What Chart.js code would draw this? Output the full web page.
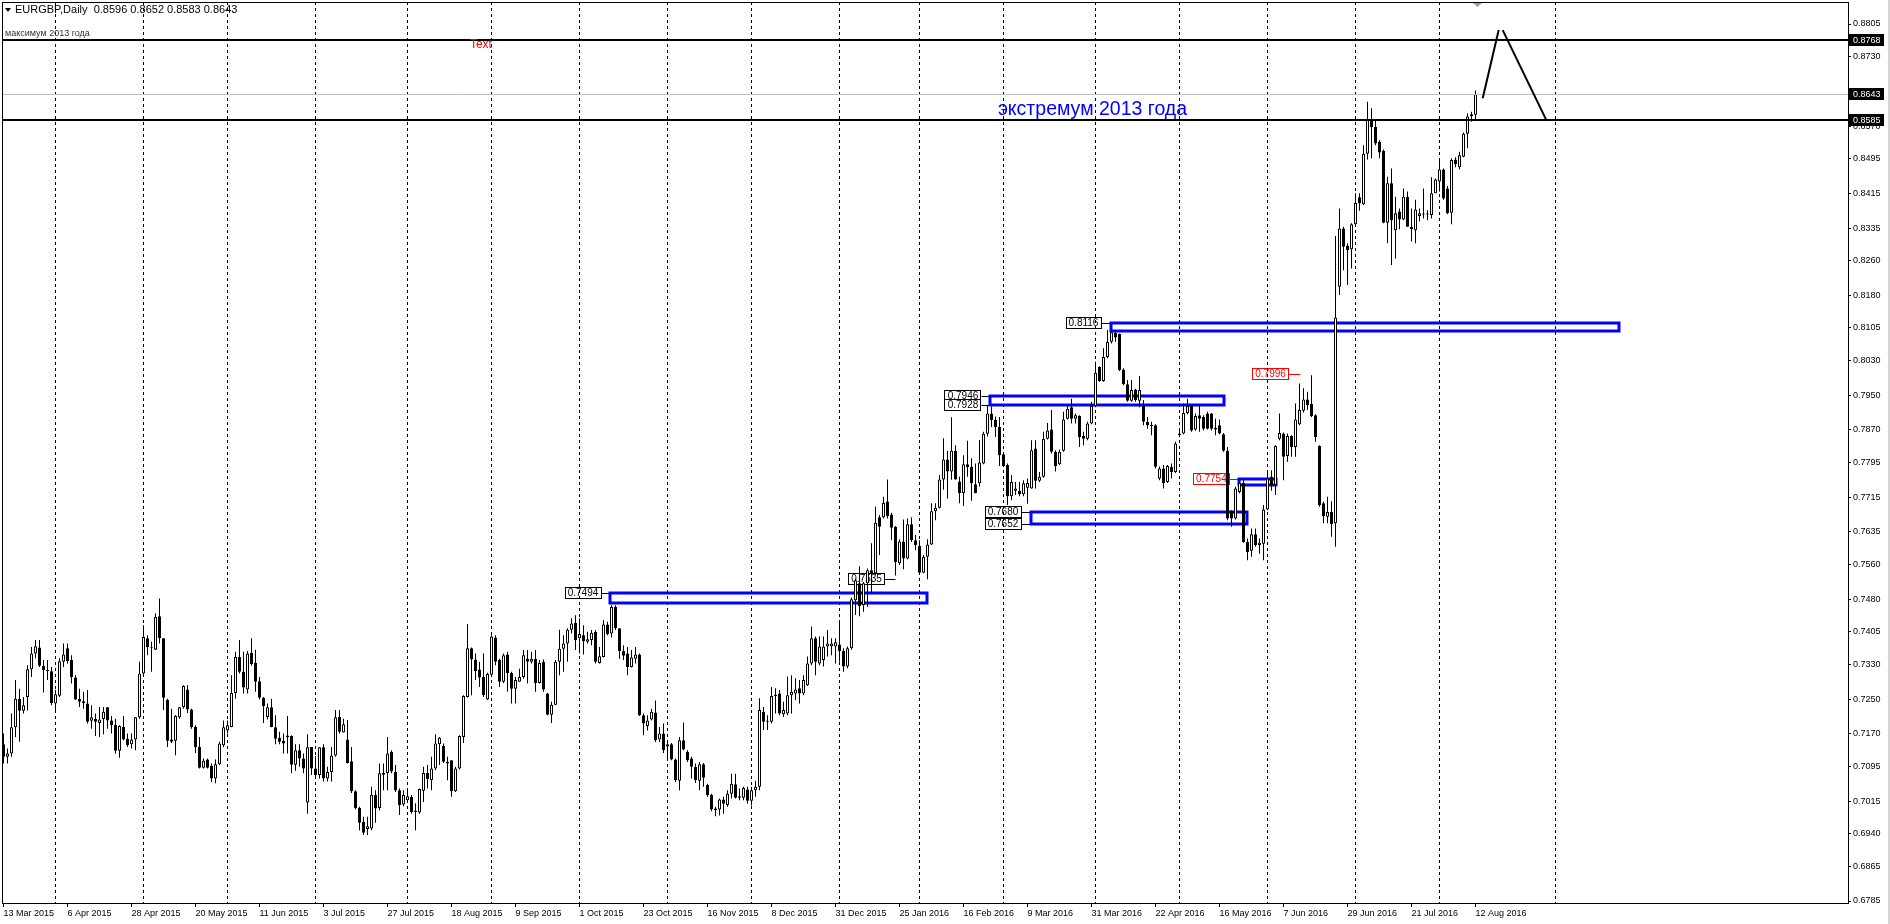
<!DOCTYPE html>
<html>
<head>
<meta charset="utf-8">
<title>EURGBP Daily</title>
<script src="https://cdn.jsdelivr.net/npm/chart.js@4.4.0/dist/chart.umd.min.js"></script>
<style>
  html, body { margin: 0; padding: 0; background: #fff; overflow: hidden; }
  canvas { display: block; }
</style>
</head>
<body>
<canvas id="chart" width="1890" height="924"></canvas>
<script>
const symbolName = 'EURGBP';
const timeframe = 'Daily';

// daily bars, 13 Mar 2015 .. 12 Aug 2016 (bar index = position on the x axis)
const opens = [
  0.7146,0.7117,0.7125,0.7185,0.7251,0.7223,0.7255,0.7319,0.7355,0.7369,
  0.7327,0.7317,0.7314,0.7240,0.7258,0.7336,0.7367,0.7340,0.7300,0.7250,
  0.7245,0.7240,0.7200,0.7205,0.7195,0.7204,0.7231,0.7201,0.7191,0.7131,
  0.7186,0.7159,0.7146,0.7157,0.7208,0.7309,0.7390,0.7369,0.7364,0.7441,
  0.7390,0.7248,0.7157,0.7154,0.7208,0.7231,0.7272,0.7226,0.7186,0.7140,
  0.7092,0.7111,0.7096,0.7067,0.7100,0.7144,0.7178,0.7186,0.7264,0.7347,
  0.7313,0.7272,0.7357,0.7334,0.7291,0.7253,0.7209,0.7231,0.7185,0.7161,
  0.7154,0.7162,0.7165,0.7099,0.7132,0.7113,0.7012,0.7140,0.7090,0.7075,
  0.7139,0.7067,0.7082,0.7120,0.7209,0.7173,0.7157,0.7107,0.7038,0.7000,
  0.6967,0.6951,0.6952,0.7029,0.6999,0.7080,0.7079,0.7129,0.7083,0.7040,
  0.7007,0.7017,0.7025,0.6993,0.6989,0.7039,0.7080,0.7063,0.7090,0.7146,
  0.7142,0.7102,0.7109,0.7038,0.7090,0.7163,0.7255,0.7367,0.7341,0.7318,
  0.7301,0.7249,0.7306,0.7392,0.7340,0.7290,0.7353,0.7310,0.7274,0.7290,
  0.7301,0.7343,0.7336,0.7343,0.7287,0.7336,0.7263,0.7214,0.7237,0.7336,
  0.7366,0.7378,0.7410,0.7426,0.7390,0.7397,0.7382,0.7386,0.7405,0.7333,
  0.7347,0.7422,0.7401,0.7462,0.7413,0.7361,0.7355,0.7324,0.7343,0.7353,
  0.7213,0.7188,0.7203,0.7219,0.7157,0.7171,0.7141,0.7146,0.7111,0.7062,
  0.7155,0.7128,0.7113,0.7094,0.7062,0.7100,0.7052,0.7030,0.6994,0.6996,
  0.7019,0.7006,0.7032,0.7054,0.7023,0.7023,0.7042,0.7016,0.7040,0.7048,
  0.7221,0.7200,0.7198,0.7257,0.7263,0.7215,0.7217,0.7259,0.7263,0.7275,
  0.7263,0.7282,0.7332,0.7390,0.7332,0.7340,0.7371,0.7372,0.7371,0.7376,
  0.7361,0.7325,0.7367,0.7478,0.7517,0.7467,0.7517,0.7547,0.7540,0.7669,
  0.7669,0.7705,0.7675,0.7647,0.7563,0.7613,0.7574,0.7653,0.7616,0.7603,
  0.7541,0.7578,0.7606,0.7683,0.7691,0.7756,0.7802,0.7774,0.7822,0.7751,
  0.7725,0.7791,0.7785,0.7745,0.7747,0.7793,0.7861,0.7908,0.7893,0.7877,
  0.7814,0.7789,0.7717,0.7730,0.7730,0.7722,0.7737,0.7735,0.7827,0.7753,
  0.7762,0.7850,0.7871,0.7820,0.7791,0.7822,0.7896,0.7922,0.7896,0.7902,
  0.7856,0.7850,0.7885,0.7925,0.8015,0.7983,0.8038,0.8073,0.8094,0.8091,
  0.8009,0.7975,0.7937,0.7963,0.7937,0.7925,0.7889,0.7879,0.7881,0.7758,
  0.7781,0.7750,0.7785,0.7773,0.7858,0.7862,0.7909,0.7925,0.7871,0.7904,
  0.7900,0.7908,0.7908,0.7871,0.7881,0.7860,0.7822,0.7684,0.7666,0.7727,
  0.7748,0.7612,0.7592,0.7630,0.7605,0.7608,0.7687,0.7762,0.7743,0.7850,
  0.7862,0.7810,0.7856,0.7831,0.7883,0.7914,0.7940,0.7930,0.7904,0.7833,
  0.7701,0.7670,0.7681,0.7655,0.8200,0.8334,0.8294,0.8286,0.8344,0.8406,
  0.8390,0.8506,0.8585,0.8568,0.8534,0.8513,0.8347,0.8438,0.8330,0.8373,
  0.8355,0.8407,0.8338,0.8330,0.8363,0.8366,0.8367,0.8365,0.8415,0.8442,
  0.8470,0.8426,0.8370,0.8493,0.8475,0.8499,0.8552,0.8593,0.8596
];
const highs = [
  0.7171,0.7136,0.7217,0.7294,0.7274,0.7255,0.7328,0.7370,0.7386,0.7386,
  0.7340,0.7340,0.7324,0.7271,0.7344,0.7378,0.7378,0.7351,0.7305,0.7274,
  0.7267,0.7271,0.7236,0.7217,0.7232,0.7232,0.7232,0.7211,0.7205,0.7190,
  0.7211,0.7171,0.7171,0.7209,0.7336,0.7420,0.7397,0.7382,0.7447,0.7482,
  0.7390,0.7251,0.7228,0.7213,0.7232,0.7282,0.7282,0.7228,0.7190,0.7163,
  0.7113,0.7113,0.7102,0.7111,0.7152,0.7201,0.7201,0.7305,0.7359,0.7386,
  0.7359,0.7361,0.7390,0.7364,0.7301,0.7255,0.7240,0.7251,0.7213,0.7175,
  0.7171,0.7211,0.7167,0.7146,0.7146,0.7125,0.7169,0.7140,0.7119,0.7140,
  0.7146,0.7094,0.7140,0.7225,0.7225,0.7205,0.7202,0.7140,0.7040,0.7002,
  0.6979,0.6979,0.7048,0.7040,0.7102,0.7102,0.7163,0.7132,0.7098,0.7044,
  0.7040,0.7040,0.7029,0.7010,0.7044,0.7094,0.7098,0.7117,0.7169,0.7163,
  0.7148,0.7117,0.7109,0.7094,0.7167,0.7259,0.7423,0.7369,0.7355,0.7336,
  0.7355,0.7311,0.7397,0.7397,0.7343,0.7355,0.7359,0.7313,0.7301,0.7320,
  0.7363,0.7363,0.7359,0.7363,0.7340,0.7341,0.7264,0.7244,0.7340,0.7410,
  0.7397,0.7413,0.7436,0.7443,0.7436,0.7420,0.7405,0.7409,0.7409,0.7370,
  0.7432,0.7428,0.7466,0.7466,0.7413,0.7374,0.7370,0.7363,0.7370,0.7355,
  0.7217,0.7213,0.7228,0.7247,0.7186,0.7194,0.7151,0.7149,0.7113,0.7163,
  0.7196,0.7132,0.7117,0.7102,0.7105,0.7103,0.7055,0.7032,0.7002,0.7021,
  0.7025,0.7040,0.7078,0.7078,0.7044,0.7048,0.7048,0.7048,0.7062,0.7252,
  0.7232,0.7213,0.7278,0.7275,0.7271,0.7244,0.7302,0.7305,0.7298,0.7294,
  0.7305,0.7348,0.7417,0.7394,0.7394,0.7394,0.7409,0.7390,0.7390,0.7432,
  0.7367,0.7371,0.7484,0.7528,0.7556,0.7520,0.7551,0.7609,0.7693,0.7674,
  0.7716,0.7756,0.7679,0.7649,0.7618,0.7664,0.7666,0.7669,0.7628,0.7616,
  0.7582,0.7618,0.7701,0.7701,0.7766,0.7851,0.7822,0.7899,0.7835,0.7762,
  0.7812,0.7845,0.7805,0.7793,0.7847,0.7866,0.7928,0.7924,0.7901,0.7900,
  0.7816,0.7793,0.7766,0.7750,0.7750,0.7754,0.7758,0.7846,0.7846,0.7773,
  0.7866,0.7886,0.7916,0.7823,0.7825,0.7912,0.7927,0.7942,0.7908,0.7904,
  0.7866,0.7889,0.7935,0.8027,0.8017,0.8058,0.8100,0.8115,0.8101,0.8092,
  0.8012,0.7985,0.7985,0.7965,0.7994,0.7939,0.7900,0.7889,0.7883,0.7786,
  0.7789,0.7789,0.7793,0.7843,0.7873,0.7931,0.7942,0.7927,0.7908,0.7927,
  0.7904,0.7912,0.7909,0.7896,0.7894,0.7863,0.7831,0.7685,0.7739,0.7754,
  0.7754,0.7620,0.7643,0.7643,0.7620,0.7697,0.7777,0.7777,0.7835,0.7908,
  0.7864,0.7862,0.7858,0.7931,0.7977,0.7966,0.7958,0.7996,0.7906,0.7835,
  0.7705,0.7716,0.7706,0.8317,0.8380,0.8338,0.8300,0.8346,0.8415,0.8415,
  0.8526,0.8626,0.8611,0.8584,0.8538,0.8516,0.8453,0.8472,0.8407,0.8380,
  0.8426,0.8419,0.8380,0.8400,0.8380,0.8426,0.8376,0.8452,0.8449,0.8493,
  0.8472,0.8432,0.8496,0.8498,0.8511,0.8555,0.8599,0.8603,0.8652
];
const lows = [
  0.7102,0.7102,0.7117,0.7163,0.7152,0.7217,0.7224,0.7301,0.7344,0.7324,
  0.7265,0.7294,0.7236,0.7221,0.7255,0.7324,0.7332,0.7286,0.7248,0.7232,
  0.7228,0.7194,0.7182,0.7165,0.7163,0.7169,0.7182,0.7171,0.7125,0.7115,
  0.7155,0.7140,0.7136,0.7132,0.7205,0.7305,0.7351,0.7313,0.7363,0.7378,
  0.7225,0.7140,0.7149,0.7121,0.7205,0.7228,0.7218,0.7182,0.7126,0.7090,
  0.7090,0.7090,0.7059,0.7056,0.7098,0.7140,0.7171,0.7185,0.7251,0.7309,
  0.7263,0.7263,0.7327,0.7267,0.7249,0.7195,0.7203,0.7185,0.7146,0.7146,
  0.7125,0.7125,0.7080,0.7085,0.7094,0.7079,0.6986,0.7075,0.7067,0.7067,
  0.7060,0.7060,0.7060,0.7117,0.7171,0.7173,0.7102,0.7034,0.6996,0.6948,
  0.6937,0.6937,0.6948,0.6965,0.6994,0.7040,0.7040,0.7079,0.7036,0.6983,
  0.7003,0.7013,0.6986,0.6948,0.6986,0.7013,0.7044,0.7040,0.7086,0.7098,
  0.7103,0.7063,0.7025,0.7036,0.7088,0.7149,0.7254,0.7259,0.7294,0.7278,
  0.7255,0.7248,0.7303,0.7328,0.7278,0.7287,0.7267,0.7240,0.7240,0.7290,
  0.7297,0.7286,0.7332,0.7267,0.7286,0.7267,0.7213,0.7195,0.7236,0.7305,
  0.7313,0.7336,0.7401,0.7363,0.7355,0.7353,0.7378,0.7374,0.7332,0.7332,
  0.7346,0.7397,0.7392,0.7409,0.7343,0.7340,0.7305,0.7323,0.7332,0.7211,
  0.7167,0.7178,0.7201,0.7151,0.7151,0.7126,0.7109,0.7109,0.7059,0.7040,
  0.7132,0.7105,0.7067,0.7057,0.7040,0.7048,0.7025,0.6992,0.6980,0.6982,
  0.6986,0.7002,0.7021,0.7021,0.7017,0.7017,0.7009,0.7005,0.7025,0.7040,
  0.7179,0.7179,0.7194,0.7217,0.7213,0.7209,0.7213,0.7217,0.7248,0.7240,
  0.7259,0.7280,0.7328,0.7305,0.7328,0.7325,0.7348,0.7351,0.7332,0.7336,
  0.7313,0.7321,0.7364,0.7444,0.7441,0.7451,0.7463,0.7493,0.7536,0.7582,
  0.7666,0.7666,0.7616,0.7535,0.7559,0.7549,0.7572,0.7612,0.7593,0.7536,
  0.7540,0.7526,0.7605,0.7662,0.7689,0.7732,0.7712,0.7755,0.7755,0.7701,
  0.7695,0.7762,0.7707,0.7724,0.7740,0.7791,0.7855,0.7877,0.7854,0.7787,
  0.7785,0.7697,0.7708,0.7720,0.7717,0.7717,0.7700,0.7735,0.7735,0.7750,
  0.7760,0.7848,0.7816,0.7774,0.7789,0.7820,0.7894,0.7885,0.7885,0.7831,
  0.7835,0.7846,0.7883,0.7922,0.7981,0.7981,0.8035,0.8069,0.8073,0.8006,
  0.7973,0.7935,0.7935,0.7935,0.7922,0.7881,0.7873,0.7858,0.7781,0.7754,
  0.7735,0.7748,0.7758,0.7771,0.7854,0.7860,0.7906,0.7866,0.7868,0.7866,
  0.7869,0.7871,0.7869,0.7858,0.7860,0.7820,0.7662,0.7647,0.7664,0.7724,
  0.7610,0.7570,0.7578,0.7601,0.7585,0.7570,0.7685,0.7730,0.7720,0.7846,
  0.7754,0.7797,0.7808,0.7808,0.7881,0.7910,0.7916,0.7900,0.7843,0.7693,
  0.7655,0.7655,0.7624,0.7601,0.8181,0.8238,0.8204,0.8242,0.8342,0.8375,
  0.8388,0.8493,0.8496,0.8526,0.8496,0.8346,0.8300,0.8250,0.8265,0.8332,
  0.8353,0.8338,0.8304,0.8300,0.8350,0.8357,0.8353,0.8357,0.8415,0.8419,
  0.8400,0.8367,0.8344,0.8475,0.8470,0.8498,0.8519,0.8580,0.8583
];
const closes = [
  0.7117,0.7125,0.7185,0.7251,0.7223,0.7236,0.7319,0.7355,0.7372,0.7327,
  0.7317,0.7314,0.7241,0.7261,0.7337,0.7353,0.7338,0.7301,0.7249,0.7244,
  0.7241,0.7198,0.7208,0.7198,0.7203,0.7221,0.7201,0.7190,0.7131,0.7188,
  0.7157,0.7144,0.7157,0.7208,0.7309,0.7393,0.7370,0.7367,0.7440,0.7390,
  0.7253,0.7154,0.7152,0.7211,0.7231,0.7280,0.7226,0.7185,0.7139,0.7092,
  0.7108,0.7092,0.7067,0.7100,0.7148,0.7185,0.7190,0.7264,0.7347,0.7313,
  0.7277,0.7355,0.7331,0.7290,0.7253,0.7234,0.7231,0.7186,0.7159,0.7152,
  0.7148,0.7166,0.7099,0.7132,0.7113,0.7090,0.7139,0.7090,0.7075,0.7139,
  0.7067,0.7082,0.7120,0.7208,0.7175,0.7192,0.7103,0.7038,0.6999,0.6965,
  0.6942,0.6957,0.7030,0.6998,0.7079,0.7076,0.7125,0.7083,0.7040,0.7006,
  0.7029,0.7026,0.6990,0.6990,0.7043,0.7080,0.7066,0.7090,0.7148,0.7161,
  0.7106,0.7106,0.7038,0.7090,0.7165,0.7257,0.7367,0.7341,0.7315,0.7300,
  0.7259,0.7308,0.7394,0.7336,0.7290,0.7351,0.7310,0.7274,0.7294,0.7301,
  0.7351,0.7336,0.7343,0.7287,0.7333,0.7272,0.7214,0.7237,0.7336,0.7366,
  0.7378,0.7410,0.7424,0.7386,0.7400,0.7384,0.7388,0.7403,0.7336,0.7349,
  0.7422,0.7400,0.7462,0.7413,0.7361,0.7350,0.7324,0.7346,0.7353,0.7213,
  0.7194,0.7201,0.7221,0.7155,0.7171,0.7132,0.7146,0.7111,0.7063,0.7155,
  0.7134,0.7109,0.7094,0.7063,0.7100,0.7069,0.7029,0.6996,0.6998,0.7019,
  0.7009,0.7032,0.7055,0.7023,0.7026,0.7045,0.7016,0.7040,0.7048,0.7225,
  0.7198,0.7198,0.7257,0.7260,0.7217,0.7225,0.7259,0.7267,0.7272,0.7263,
  0.7294,0.7332,0.7390,0.7336,0.7371,0.7371,0.7378,0.7378,0.7381,0.7361,
  0.7325,0.7367,0.7480,0.7524,0.7464,0.7517,0.7547,0.7540,0.7656,0.7647,
  0.7702,0.7672,0.7645,0.7566,0.7613,0.7574,0.7653,0.7616,0.7605,0.7541,
  0.7578,0.7606,0.7683,0.7691,0.7756,0.7802,0.7774,0.7822,0.7756,0.7725,
  0.7791,0.7784,0.7747,0.7725,0.7795,0.7861,0.7908,0.7893,0.7877,0.7812,
  0.7787,0.7717,0.7750,0.7735,0.7722,0.7747,0.7748,0.7823,0.7753,0.7762,
  0.7850,0.7869,0.7820,0.7787,0.7820,0.7894,0.7919,0.7896,0.7904,0.7854,
  0.7850,0.7885,0.7925,0.8002,0.7983,0.8038,0.8073,0.8095,0.8083,0.8008,
  0.7975,0.7937,0.7962,0.7939,0.7962,0.7889,0.7881,0.7881,0.7785,0.7781,
  0.7748,0.7787,0.7773,0.7839,0.7862,0.7909,0.7925,0.7869,0.7902,0.7896,
  0.7873,0.7873,0.7873,0.7875,0.7862,0.7822,0.7666,0.7666,0.7735,0.7748,
  0.7612,0.7589,0.7630,0.7605,0.7610,0.7687,0.7758,0.7743,0.7833,0.7863,
  0.7808,0.7856,0.7831,0.7894,0.7916,0.7940,0.7927,0.7902,0.7854,0.7697,
  0.7671,0.7681,0.7653,0.8129,0.8334,0.8292,0.8284,0.8344,0.8393,0.8392,
  0.8506,0.8585,0.8568,0.8530,0.8509,0.8347,0.8438,0.8353,0.8369,0.8355,
  0.8407,0.8338,0.8332,0.8378,0.8369,0.8367,0.8366,0.8415,0.8447,0.8470,
  0.8403,0.8369,0.8492,0.8482,0.8503,0.8552,0.8592,0.8597,0.8643
];

// time axis: a label every 16 bars
const tickBars = [0,16,32,48,64,80,96,112,128,144,160,176,192,208,224,240,256,272,288,304,320,336,352,368];
const tickLabels = ['13 Mar 2015','6 Apr 2015','28 Apr 2015','20 May 2015','11 Jun 2015','3 Jul 2015',
  '27 Jul 2015','18 Aug 2015','9 Sep 2015','1 Oct 2015','23 Oct 2015','16 Nov 2015','8 Dec 2015',
  '31 Dec 2015','25 Jan 2016','16 Feb 2016','9 Mar 2016','31 Mar 2016','22 Apr 2016','16 May 2016',
  '7 Jun 2016','29 Jun 2016','21 Jul 2016','12 Aug 2016'];
// first bar of every month -> dashed grid
const monthStartBars = [13,35,56,78,101,122,144,166,187,209,229,250,273,294,316,338,359,388];
// price axis
const priceTicks = [0.8805,0.8730,0.8650,0.8570,0.8495,0.8415,0.8335,0.8260,0.8180,0.8105,0.8030,0.7950,
  0.7870,0.7795,0.7715,0.7635,0.7560,0.7480,0.7405,0.7330,0.7250,0.7170,0.7095,0.7015,0.6940,0.6865,0.6785];

// objects drawn on the chart
const high2013 = 0.8768;
const extreme2013 = 0.8585;
// [fromBar, toBar, topPrice, bottomPrice]
const zones = [
  [151.7, 231.0, 0.7494, 0.7470],
  [246.6, 305.1, 0.7948, 0.7928],
  [276.9, 403.9, 0.8116, 0.8098],
  [256.8, 310.9, 0.7681, 0.7653],
  [308.9, 318.1, 0.7756, 0.7743]
];
// [text, bar of right edge, price, bar the leader goes to, red?]
const priceTags = [
  ['0.7535', 220.4, 0.7526, 223.0, false],
  ['0.7494', 149.5, 0.7494, 151.7, false],
  ['0.7946', 244.5, 0.7948, 246.6, false],
  ['0.7928', 244.5, 0.7927, 246.6, false],
  ['0.8116', 274.5, 0.8116, 276.9, false],
  ['0.7680', 254.5, 0.7682, 256.8, false],
  ['0.7652', 254.5, 0.7653, 256.8, false],
  ['0.7754', 306.6, 0.7756, 308.9, true],
  ['0.7996', 321.4, 0.7998, 324.2, true]
];
// hand drawn forecast: two segments
const forecast = [
  [[369.8, 0.8634], [373.8, 0.8791]],
  [[374.8, 0.8791], [385.8, 0.8582]]
];

const last = closes.length - 1;
const bodies = opens.map((o, i) => ({ x: i, y: [o, closes[i]] }));
const wicks = highs.map((h, i) => ({ x: i, y: [lows[i], h] }));
const bodyColors = opens.map((o, i) => closes[i] >= o ? '#ffffff' : '#000000');

function priceTag(ctx, xr, yc, xTo, text, color) {
  ctx.font = '10px "Liberation Sans", Arial, sans-serif';
  const w = Math.ceil(ctx.measureText(text).width) + 6;
  const top = Math.round(yc - 6);
  ctx.fillStyle = '#fff';
  ctx.fillRect(xr - w, top, w, 12);
  ctx.strokeStyle = color;
  ctx.lineWidth = 1;
  ctx.strokeRect(Math.round(xr - w) + 0.5, top + 0.5, w - 1, 11);
  ctx.beginPath();
  ctx.moveTo(xr, Math.round(yc) + 0.5);
  ctx.lineTo(xTo, Math.round(yc) + 0.5);
  ctx.stroke();
  ctx.fillStyle = color;
  ctx.textAlign = 'center';
  ctx.textBaseline = 'middle';
  ctx.fillText(text, xr - w / 2, top + 6.5);
}

const mt4Objects = {
  id: 'mt4Objects',
  beforeDraw(chart) {
    const ctx = chart.ctx;
    ctx.save();
    ctx.fillStyle = '#fff';
    ctx.fillRect(0, 0, chart.width, chart.height);
    ctx.restore();
  },
  beforeDatasetsDraw(chart) {
    const { ctx, chartArea: a, scales: { x, y } } = chart;
    ctx.save();
    ctx.beginPath();
    ctx.rect(a.left, a.top, a.right - a.left, a.bottom - a.top);
    ctx.clip();

    priceTags.forEach(t => {
      priceTag(ctx, x.getPixelForValue(t[1]), y.getPixelForValue(t[2]), x.getPixelForValue(t[3]), t[0], t[4] ? '#ff0000' : '#000');
    });

    ctx.strokeStyle = '#0000ff';
    ctx.lineWidth = 3;
    zones.forEach(z => {
      const x1 = x.getPixelForValue(z[0]), x2 = x.getPixelForValue(z[1]);
      const y1 = y.getPixelForValue(z[2]), y2 = y.getPixelForValue(z[3]);
      ctx.strokeRect(Math.round(x1), Math.round(y1), Math.round(x2 - x1), Math.round(y2 - y1));
    });

    // month grid
    ctx.strokeStyle = '#000';
    ctx.lineWidth = 1;
    ctx.setLineDash([3, 3]);
    monthStartBars.forEach(i => {
      const px = Math.floor(x.getPixelForValue(i)) + 0.5;
      ctx.beginPath();
      ctx.moveTo(px, a.top);
      ctx.lineTo(px, a.bottom);
      ctx.stroke();
    });
    ctx.restore();
  },
  afterDatasetsDraw(chart) {
    const { ctx, chartArea: a, scales: { x, y } } = chart;
    ctx.save();
    ctx.beginPath();
    ctx.rect(a.left, a.top, a.right - a.left, a.bottom - a.top);
    ctx.clip();

    // bid line
    let py = Math.round(y.getPixelForValue(closes[last])) + 0.5;
    ctx.strokeStyle = '#c0c0c0';
    ctx.lineWidth = 1;
    ctx.beginPath(); ctx.moveTo(a.left, py); ctx.lineTo(a.right, py); ctx.stroke();

    // horizontal levels
    ctx.strokeStyle = '#000';
    ctx.lineWidth = 2;
    [high2013, extreme2013].forEach(p => {
      const ly = Math.round(y.getPixelForValue(p));
      ctx.beginPath(); ctx.moveTo(a.left, ly); ctx.lineTo(a.right, ly); ctx.stroke();
    });

    // forecast lines
    forecast.forEach(seg => {
      ctx.beginPath();
      ctx.moveTo(x.getPixelForValue(seg[0][0]), y.getPixelForValue(seg[0][1]));
      ctx.lineTo(x.getPixelForValue(seg[1][0]), y.getPixelForValue(seg[1][1]));
      ctx.stroke();
    });

    // texts
    ctx.fillStyle = '#333';
    ctx.font = '9px "Liberation Sans", Arial, sans-serif';
    ctx.textAlign = 'left';
    ctx.textBaseline = 'alphabetic';
    ctx.fillText('максимум 2013 года', a.left + 3, y.getPixelForValue(high2013) - 4);

    ctx.fillStyle = '#0000ff';
    ctx.font = '19.5px "Liberation Sans", Arial, sans-serif';
    ctx.fillText('экстремум 2013 года', x.getPixelForValue(248.6), y.getPixelForValue(0.8595));

    ctx.fillStyle = '#ff0000';
    ctx.font = '12px "Liberation Sans", Arial, sans-serif';
    ctx.textBaseline = 'middle';
    ctx.fillText('Text', x.getPixelForValue(116.6), y.getPixelForValue(0.8757));
    ctx.restore();
  },
  afterDraw(chart) {
    const { ctx, chartArea: a, scales: { y } } = chart;
    ctx.save();
    // frame
    ctx.strokeStyle = '#000';
    ctx.lineWidth = 1;
    ctx.strokeRect(a.left + 0.5, a.top + 0.5, a.right - a.left, a.bottom - a.top);

    // header
    ctx.fillStyle = '#000';
    ctx.beginPath(); ctx.moveTo(5, 8); ctx.lineTo(11, 8); ctx.lineTo(8, 12); ctx.closePath(); ctx.fill();
    ctx.font = '11px "Liberation Sans", Arial, sans-serif';
    ctx.textAlign = 'left';
    ctx.textBaseline = 'middle';
    const ohlc = [opens[last], highs[last], lows[last], closes[last]].map(v => v.toFixed(4)).join(' ');
    ctx.fillText(symbolName + ',' + timeframe + '  ' + ohlc, 15, 10);

    // chart shift marker
    ctx.fillStyle = '#a0a0a0';
    ctx.beginPath(); ctx.moveTo(1473, 3); ctx.lineTo(1482, 3); ctx.lineTo(1477.5, 7); ctx.closePath(); ctx.fill();

    // price boxes on the axis
    ctx.font = '9px "Liberation Sans", Arial, sans-serif';
    [high2013, closes[last], extreme2013].forEach(p => {
      const py = Math.round(y.getPixelForValue(p));
      ctx.fillStyle = '#000';
      ctx.fillRect(a.right + 1, py - 6, 35, 12);
      ctx.fillStyle = '#fff';
      ctx.fillText(p.toFixed(4), a.right + 5, py + 0.5);
    });

    ctx.fillStyle = '#d4d4d4';
    ctx.fillRect(1888, 0, 2, chart.height);
    ctx.restore();
  }
};

Chart.defaults.font.family = '"Liberation Sans", Arial, sans-serif';
Chart.defaults.font.size = 9;
Chart.defaults.color = '#000';

const ctx = document.getElementById('chart').getContext('2d');
const chart = new Chart(ctx, {
  type: 'bar',
  data: {
    datasets: [
      {
        label: 'body',
        data: bodies,
        backgroundColor: bodyColors,
        borderColor: '#000',
        borderWidth: 1,
        borderSkipped: false,
        barThickness: 3,
        minBarLength: 1,
        inflateAmount: 0,
        grouped: false,
        order: 0
      },
      {
        label: 'wick',
        data: wicks,
        backgroundColor: '#000',
        borderWidth: 0,
        barThickness: 1,
        inflateAmount: 0,
        grouped: false,
        order: 1
      }
    ]
  },
  options: {
    responsive: false,
    animation: false,
    devicePixelRatio: 1,
    layout: { padding: { left: 2, top: 2, right: 0, bottom: 0 } },
    plugins: { legend: { display: false }, tooltip: { enabled: false } },
    scales: {
      x: {
        type: 'linear',
        offset: false,
        min: -0.375,
        max: 461.125,
        grid: { offset: false, drawOnChartArea: false, tickLength: 4, color: '#000' },
        border: { display: false },
        ticks: {
          autoSkip: false,
          maxRotation: 0,
          align: 'start',
          padding: 1,
          color: '#000',
          callback: v => tickLabels[tickBars.indexOf(v)]
        },
        afterBuildTicks: s => { s.ticks = tickBars.map(v => ({ value: v })); },
        afterFit: s => { s.height = 21; s.paddingLeft = 0; s.paddingRight = 0; }
      },
      y: {
        position: 'right',
        min: 0.67804,
        max: 0.88557,
        grid: { drawOnChartArea: false, tickLength: 3, color: '#000' },
        border: { display: false },
        ticks: {
          padding: 2,
          color: '#000',
          callback: v => v.toFixed(4)
        },
        afterBuildTicks: s => { s.ticks = priceTicks.map(v => ({ value: v })); },
        afterFit: s => { s.width = 42; s.paddingTop = 0; s.paddingBottom = 0; }
      }
    }
  },
  plugins: [mt4Objects]
});
</script>
</body>
</html>
